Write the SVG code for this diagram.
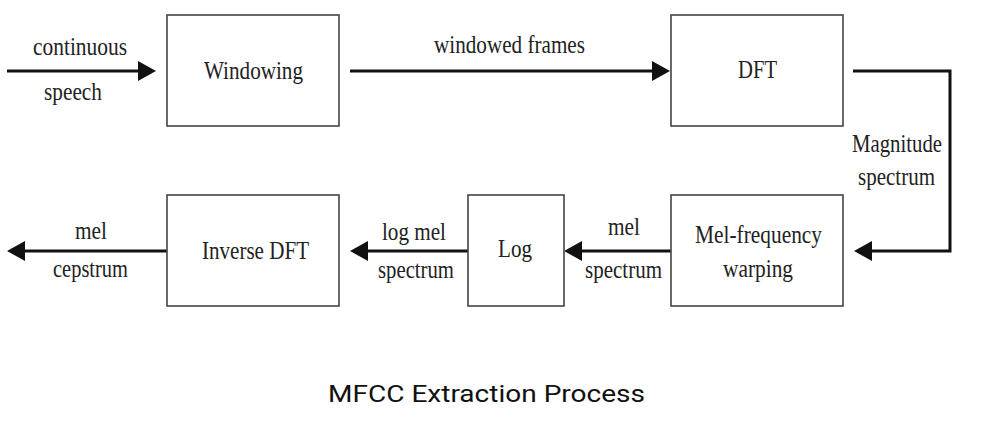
<svg xmlns="http://www.w3.org/2000/svg" width="994" height="422" viewBox="0 0 994 422">
<style>
.box{fill:#fff;stroke:#444;stroke-width:1.6}
.t{font-family:"Liberation Serif","Times New Roman",serif;font-size:26px;fill:#222;text-anchor:middle}
.c{fill:none;stroke:#111;stroke-width:3}
.title{font-family:Roboto,"Liberation Sans",sans-serif;font-size:23px;fill:#111;text-anchor:middle}
</style>
<defs>
<marker id="ah" viewBox="0 0 18 20" refX="8" refY="10" markerWidth="18" markerHeight="20" markerUnits="userSpaceOnUse" orient="auto">
<path d="M0,0 L18,10 L0,20 z" fill="#111"/>
</marker>
</defs>
<rect width="994" height="422" fill="#fff"/>
<g id="connectors">
<line class="c" x1="7" y1="71" x2="146" y2="71" marker-end="url(#ah)"/>
<line class="c" x1="350" y1="71" x2="660" y2="71" marker-end="url(#ah)"/>
<polyline class="c" points="853,71 950,71 950,251 864,251" marker-end="url(#ah)"/>
<line class="c" x1="671" y1="251" x2="574" y2="251" marker-end="url(#ah)"/>
<line class="c" x1="468" y1="251" x2="360" y2="251" marker-end="url(#ah)"/>
<line class="c" x1="167" y1="251" x2="17" y2="251" marker-end="url(#ah)"/>
<text class="t" x="80" y="55" textLength="94" lengthAdjust="spacingAndGlyphs">continuous</text>
<text class="t" x="73" y="100" textLength="58" lengthAdjust="spacingAndGlyphs">speech</text>
<text class="t" x="509.5" y="53" textLength="151" lengthAdjust="spacingAndGlyphs">windowed frames</text>
<text class="t" x="897" y="152" textLength="90" lengthAdjust="spacingAndGlyphs">Magnitude</text>
<text class="t" x="896.5" y="185" textLength="77" lengthAdjust="spacingAndGlyphs">spectrum</text>
<text class="t" x="624" y="235" textLength="32" lengthAdjust="spacingAndGlyphs">mel</text>
<text class="t" x="623.5" y="278" textLength="77" lengthAdjust="spacingAndGlyphs">spectrum</text>
<text class="t" x="414" y="240" textLength="64" lengthAdjust="spacingAndGlyphs">log mel</text>
<text class="t" x="416" y="278" textLength="76" lengthAdjust="spacingAndGlyphs">spectrum</text>
<text class="t" x="91" y="239" textLength="32" lengthAdjust="spacingAndGlyphs">mel</text>
<text class="t" x="90.5" y="277" textLength="75" lengthAdjust="spacingAndGlyphs">cepstrum</text>
</g>
<g id="windowing">
<rect class="box" x="167" y="15" width="172" height="111"/>
<text class="t" x="253.5" y="79" textLength="99" lengthAdjust="spacingAndGlyphs">Windowing</text>
</g>
<g id="dft">
<rect class="box" x="671" y="15" width="172" height="111"/>
<text class="t" x="757.5" y="78" textLength="39" lengthAdjust="spacingAndGlyphs">DFT</text>
</g>
<g id="melwarp">
<rect class="box" x="671" y="195" width="172" height="111"/>
<text class="t" x="758.5" y="243" textLength="127" lengthAdjust="spacingAndGlyphs">Mel-frequency</text>
<text class="t" x="758" y="277" textLength="70" lengthAdjust="spacingAndGlyphs">warping</text>
</g>
<g id="log">
<rect class="box" x="468" y="195" width="96" height="111"/>
<text class="t" x="515" y="257" textLength="34" lengthAdjust="spacingAndGlyphs">Log</text>
</g>
<g id="inversedft">
<rect class="box" x="167" y="195" width="172" height="111"/>
<text class="t" x="255.5" y="259" textLength="107" lengthAdjust="spacingAndGlyphs">Inverse DFT</text>
</g>
<text class="title" x="486.5" y="402" textLength="317" lengthAdjust="spacingAndGlyphs">MFCC Extraction Process</text>
</svg>
